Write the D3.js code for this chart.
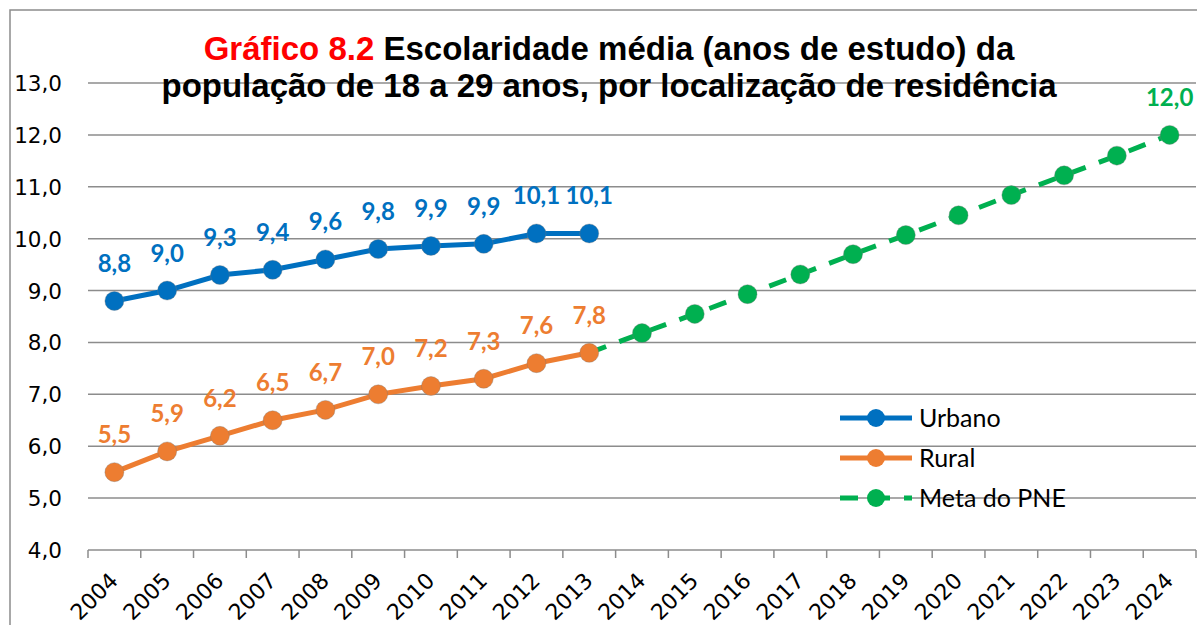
<!DOCTYPE html>
<html><head><meta charset="utf-8">
<script src="https://cdn.jsdelivr.net/npm/d3@7"></script>
<style>body{margin:0;background:#fff}svg{display:block}</style>
</head><body>
<svg id="c" width="1197" height="625"></svg>
<script>
const years = ["2004","2005","2006","2007","2008","2009","2010","2011","2012","2013","2014","2015","2016","2017","2018","2019","2020","2021","2022","2023","2024"];
const urbanoYears = ["2004","2005","2006","2007","2008","2009","2010","2011","2012","2013"];
const urbano = [8.8, 9.0, 9.3, 9.4, 9.6, 9.8, 9.86, 9.9, 10.1, 10.1];
const rural = [5.5, 5.9, 6.2, 6.5, 6.7, 7.0, 7.16, 7.3, 7.6, 7.8];
const metaYears = ["2013","2014","2015","2016","2017","2018","2019","2020","2021","2022","2023","2024"];
const meta = [7.8, 8.18, 8.55, 8.93, 9.31, 9.70, 10.07, 10.45, 10.84, 11.22, 11.6, 12.0];
const yTicks = [4,5,6,7,8,9,10,11,12,13];
const titleRed = "Gráfico 8.2";
const title1 = " Escolaridade média (anos de estudo) da";
const title2 = "população de 18 a 29 anos, por localização de residência";
const legendNames = ["Urbano","Rural","Meta do PNE"];

const C = {u:"#0070C0", r:"#ED7D31", m:"#00B050"};
const svg = d3.select("#c");
const x = d3.scaleBand().domain(years).range([88,1196]).padding(0);
const y = d3.scaleLinear().domain([4,13]).range([550,83]);
const cx = d => x(d) + x.bandwidth()/2;
const fmt = v => d3.format(".1f")(v).replace(".", ",");

// frame
svg.append("rect").attr("x",10).attr("y",10).attr("width",1300).attr("height",700)
  .attr("fill","none").attr("stroke","#8c8c8c").attr("stroke-width",1.5);

// gridlines
svg.append("g").selectAll("line").data(yTicks).join("line")
  .attr("x1",88).attr("x2",1196).attr("y1",d=>y(d)).attr("y2",d=>y(d))
  .attr("stroke","#8c8c8c").attr("stroke-width",1.5);

// y labels
svg.append("g").selectAll("text").data(yTicks).join("text")
  .attr("x",62).attr("y",d=>y(d)+8).attr("text-anchor","end")
  .attr("font-family","DejaVu Sans").attr("font-size",21.5).attr("fill","#000")
  .text(d=>fmt(d));

// x axis ticks
const bounds = years.map(d=>x(d)).concat([1196]);
svg.append("g").selectAll("line").data(bounds).join("line")
  .attr("x1",d=>d).attr("x2",d=>d).attr("y1",550).attr("y2",558)
  .attr("stroke","#8c8c8c").attr("stroke-width",1.5);
svg.append("g").selectAll("text").data(years).join("text")
  .attr("transform",d=>`translate(${cx(d)+5},${582}) rotate(-45)`)
  .attr("text-anchor","end")
  .attr("font-family","DejaVu Sans").attr("font-size",22).attr("fill","#000")
  .text(d=>d);

// title
const t1 = svg.append("text").attr("x",609).attr("y",60).attr("text-anchor","middle")
  .attr("font-family","Liberation Sans, Arial").attr("font-weight","bold").attr("font-size",33);
t1.append("tspan").attr("fill","#FF0000").text(titleRed);
t1.append("tspan").attr("fill","#000").text(title1);
svg.append("text").attr("x",609).attr("y",97).attr("text-anchor","middle")
  .attr("font-family","Liberation Sans, Arial").attr("font-weight","bold").attr("font-size",33)
  .attr("fill","#000").text(title2);

const line = d3.line().x(d=>cx(d[0])).y(d=>y(d[1]));
function series(ys, vs, color, dashed, skipFirstMarker){
  const pts = ys.map((d,i)=>[d,vs[i]]);
  svg.append("path").attr("d",line(pts)).attr("fill","none").attr("stroke",color)
    .attr("stroke-width",5).attr("stroke-dasharray",dashed?"18,14":null);
  svg.append("g").selectAll("circle").data(skipFirstMarker?pts.slice(1):pts).join("circle")
    .attr("cx",d=>cx(d[0])).attr("cy",d=>y(d[1])).attr("r",9.5)
    .attr("fill",color).attr("stroke","rgba(120,120,120,0.35)").attr("stroke-width",1);
  return pts;
}
series(metaYears, meta, C.m, true, true);
const pu = series(urbanoYears, urbano, C.u, false);
const pr = series(urbanoYears, rural, C.r, false);

function labels(pts, color){
  svg.append("g").selectAll("text").data(pts).join("text")
    .attr("x",d=>cx(d[0])).attr("y",d=>y(d[1])-29).attr("text-anchor","middle")
    .attr("font-family","Lato").attr("font-weight","bold").attr("font-size",24)
    .attr("fill",color).text(d=>fmt(d[1]));
}
labels(pu, C.u);
labels(pr, C.r);
labels([[metaYears[metaYears.length-1], meta[meta.length-1]]], C.m);

// legend
const leg = [[C.u,false],[C.r,false],[C.m,true]];
leg.forEach((l,i)=>{
  const ly = 418 + i*40;
  svg.append("line").attr("x1",840).attr("x2",912).attr("y1",ly).attr("y2",ly)
    .attr("stroke",l[0]).attr("stroke-width",5).attr("stroke-dasharray",l[1]?"18,14":null);
  svg.append("circle").attr("cx",876).attr("cy",ly).attr("r",9).attr("fill",l[0]);
  svg.append("text").attr("x",919).attr("y",ly+9).attr("font-family","Lato")
    .attr("font-size",25).attr("fill","#000").text(legendNames[i]);
});
</script>
</body></html>
